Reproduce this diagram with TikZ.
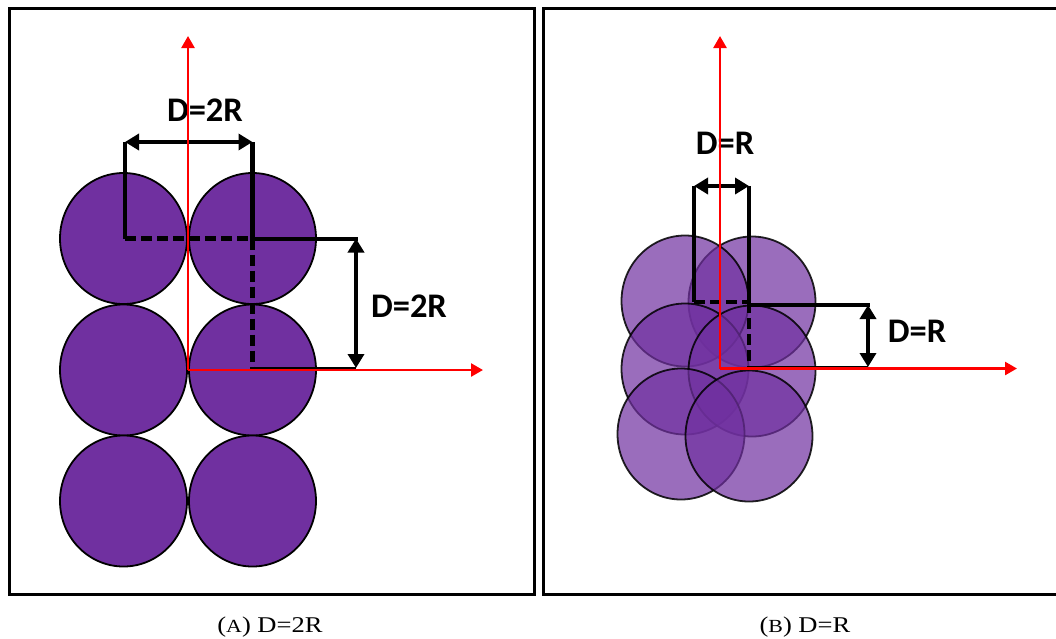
\documentclass[tikz,border=0pt]{standalone}
\usepackage{graphicx}
\usepackage{fontspec}
\setmainfont{Liberation Serif}
\newfontfamily\lab{Carlito}
\usetikzlibrary{arrows.meta,shapes.geometric}
\definecolor{purp}{HTML}{7030A0}
\begin{document}
\begin{tikzpicture}[x=1pt,y=-1pt,
 ball/.style={ellipse,draw=black,line width=1.8pt,fill=purp,minimum width=127pt,minimum height=131pt,inner sep=0pt,outer sep=0pt},
 tball/.style={ball,fill opacity=0.7,draw opacity=0.85},
 axis/.style={red,line width=2.5pt,-{Triangle[length=12pt,width=13pt]}},
 dim/.style={line width=4.5pt},
 dimarrow/.style={line width=4pt,{Triangle[length=14pt,width=16pt]}-{Triangle[length=14pt,width=16pt]}},
 dsh/.style={line width=4.2pt,dash pattern=on 11pt off 5pt},
 lbl/.style={font=\lab\bfseries\fontsize{34.5}{40}\selectfont,anchor=base,inner sep=0pt},
 captxt/.style={anchor=base,inner sep=0pt,font=\fontsize{22.5}{26}\selectfont}
]
\useasboundingbox (0,0) rectangle (1056,638);
\clip (0,0) rectangle (1056,638);
\fill[white] (0,0) rectangle (1056,638);

% panel frames
\draw[line width=3pt] (9,8) rectangle (534,594);
\draw[line width=3pt] (543,8) rectangle (1070,594);

% ---------- left panel ----------
\node[ball] (L11) at (123.5,238.5) {};
\node[ball] (L12) at (252.5,238.5) {};
\node[ball] (L21) at (123.5,370) {};
\node[ball] (L22) at (252.5,370) {};
\node[ball] (L31) at (123.5,501) {};
\node[ball] (L32) at (252.5,501) {};

\coordinate (a) at (125,238.5);
\coordinate (b) at (252.5,238.5);
\coordinate (at) at (125,142);
\coordinate (bt) at (252.5,142);
\coordinate (c) at (252.5,369);
\coordinate (e) at (356,238.5);
\coordinate (f) at (356,368);
\coordinate (cb) at (252.5,368);

\draw[dim] (a) -- (at);
\draw[dim] (bt) -- (b);
\draw[dsh] (a) -- (b);
\draw[dsh] (b) -- (c);
\draw[dimarrow] (at) -- (bt);
\draw[line width=4pt] (b) -- ([xshift=2pt]e);
\draw[dimarrow] (e) -- (f);
\draw[line width=2.2pt] (cb) -- (f);

\node[lbl] (l1) at (205,121.7) {D=2R};
\node[lbl] (l2) at (409,317) {D=2R};

\coordinate (O1) at (188,370);
\coordinate (Y1) at (188,36);
\coordinate (X1) at (483,370);
\draw[axis] (O1) -- (Y1);
\draw[axis] (O1) -- (X1);

% ---------- right panel ----------
\node[tball] (R12) at (752,302) {};
\node[tball] (R11) at (685,301) {};
\node[tball] (R21) at (685,369) {};
\node[tball] (R22) at (752,371) {};
\node[tball] (R31) at (681,434) {};
\node[tball] (R32) at (749,436) {};

\coordinate (p) at (694,302);
\coordinate (q) at (749,302);
\coordinate (pt) at (694,186);
\coordinate (qt) at (749,186);
\coordinate (r) at (749,367);
\coordinate (s) at (749,305);
\coordinate (t) at (868,305);
\coordinate (u) at (868,367);

\draw[dim] (p) -- (pt);
\draw[dim] (qt) -- (q);
\draw[dsh] (p) -- (q);
\draw[dsh] (q) -- (r);
\draw[dimarrow] (pt) -- (qt);
\draw[line width=4pt] (s) -- ([xshift=2pt]t);
\draw[dimarrow] (t) -- (u);
\draw[line width=2.2pt] (r) -- (u);

\node[lbl] (l3) at (725,154) {D=R};
\node[lbl] (l4) at (917,342) {D=R};

\coordinate (O2) at (720,368.5);
\coordinate (Y2) at (720,36);
\coordinate (X2) at (1017,368.5);
\draw[axis] (O2) -- (Y2);
\draw[axis] (O2) -- (X2);

% ---------- captions ----------
\node[captxt] (capA) at (270,632) {\scalebox{1.18}[1]{({\fontsize{18.5}{20}\selectfont A}) D=2R}};
\node[captxt] (capB) at (805,632) {\scalebox{1.18}[1]{({\fontsize{18.5}{20}\selectfont B}) D=R}};
\end{tikzpicture}
\end{document}
